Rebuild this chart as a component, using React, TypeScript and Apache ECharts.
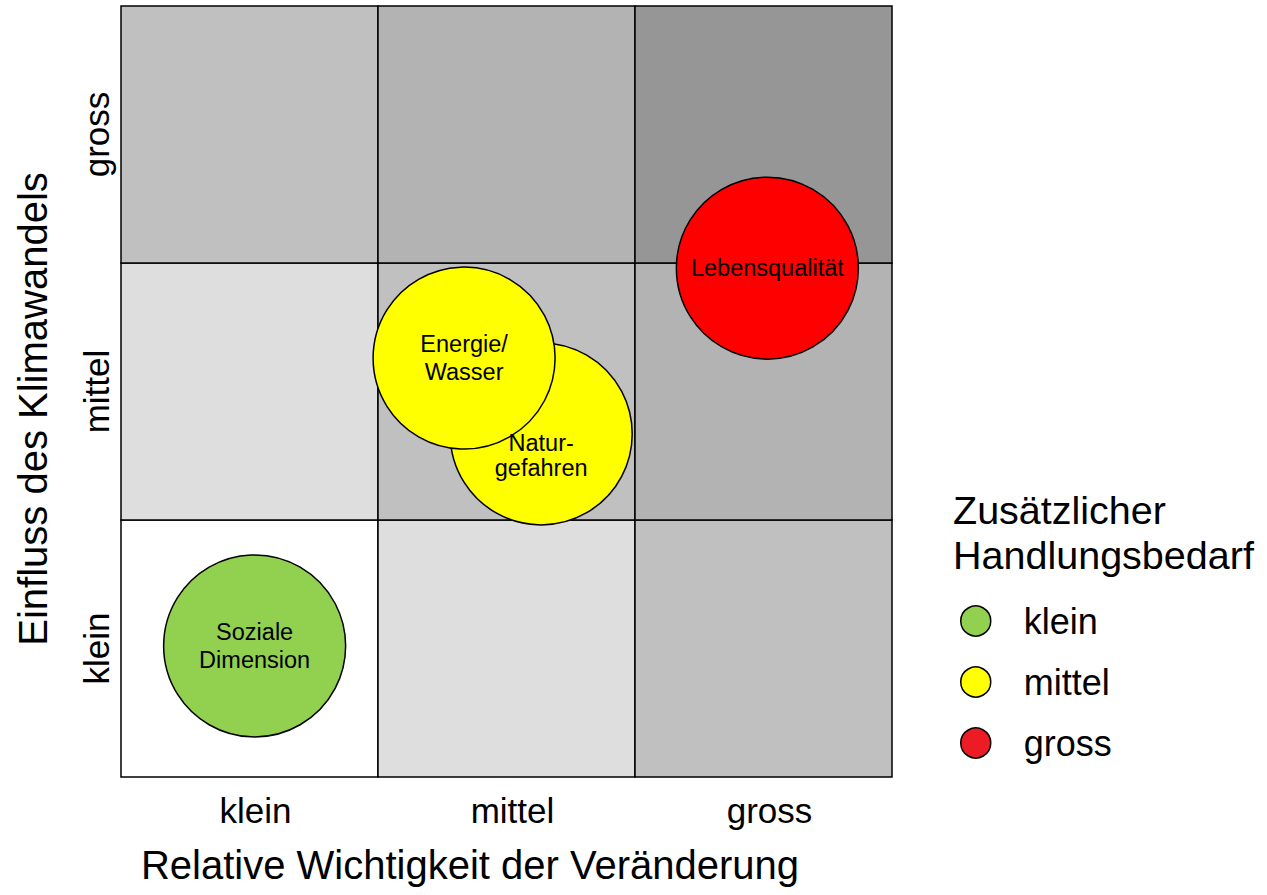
import React, { useEffect, useRef } from "react";
import * as echarts from "echarts";

const xCategories = ["klein", "mittel", "gross"];
const yCategories = ["klein", "mittel", "gross"];
// cell shades, rows from bottom (klein) to top (gross), columns klein..gross
const cellShades = [
  ["#ffffff", "#dedede", "#c0c0c0"],
  ["#dedede", "#c0c0c0", "#b3b3b3"],
  ["#c0c0c0", "#b3b3b3", "#969696"],
];
const needNames = ["klein", "mittel", "gross"];
const needColors = ["#92d050", "#ffff00", "#ff0000"];
const legendColors = ["#92d050", "#ffff00", "#ed1c24"];
// [Wichtigkeit, Einfluss, label]
const kleinPoints: [number, number, string][] = [[0.52, 0.51, "Soziale\nDimension"]];
const mittelPoints: [number, number, string][] = [
  [1.635, 1.335, "Natur-\ngefahren"],
  [1.335, 1.63, "Energie/\nWasser"],
];
const grossPoints: [number, number, string][] = [[2.515, 1.98, "Lebensqualität"]];
const xTitle = "Relative Wichtigkeit der Veränderung";
const yTitle = "Einfluss des Klimawandels";
const legendTitle = "Zusätzlicher\nHandlungsbedarf";

const FONT = "'Liberation Sans', Arial, Helvetica, sans-serif";

export default function App() {
  const ref = useRef<HTMLDivElement>(null);
  useEffect(() => {
    document.body.style.margin = "0";
    if (!ref.current) return;
    const chart = echarts.init(ref.current, null, { renderer: "svg" });

    const cellData: number[][] = [];
    cellShades.forEach((row, yi) => row.forEach((_, xi) => cellData.push([xi, yi])));
    const cellColors: string[] = [];
    cellShades.forEach((row) => row.forEach((c) => cellColors.push(c)));

    const labelShift: Record<string, number[]> = { "Natur-\ngefahren": [0, 22] };
    const pointSeries = [kleinPoints, mittelPoints, grossPoints].map((pts, i) => ({
      name: needNames[i],
      type: "scatter",
      xAxisIndex: 1,
      yAxisIndex: 1,
      symbol: "circle",
      symbolSize: 182,
      z: 5,
      itemStyle: { color: needColors[i], borderColor: "#000", borderWidth: 1.5, opacity: 1 },
      label: {
        show: true,
        position: "inside",
        formatter: (p: any) => p.value[2],
        color: "#000",
        fontSize: 23.5,
        lineHeight: 28,
        fontFamily: FONT,
      },
      emphasis: { disabled: true },
      data: pts.map((p) => ({
        value: p,
        label: labelShift[p[2]] ? { offset: labelShift[p[2]], lineHeight: 25 } : undefined,
      })),
    }));

    chart.setOption({
      animation: false,
      backgroundColor: "#ffffff",
      textStyle: { fontFamily: FONT },
      title: {
        text: legendTitle,
        left: 953,
        top: 487,
        padding: 0,
        textStyle: { fontSize: 39.5, lineHeight: 45, fontWeight: "normal", color: "#000", fontFamily: FONT },
      },
      legend: {
        orient: "vertical",
        left: 960,
        top: 603,
        padding: 0,
        itemWidth: 30,
        itemHeight: 30,
        itemGap: 25,
        icon: "circle",
        selectedMode: false,
        itemStyle: { borderColor: "#000", borderWidth: 1.5 },
        textStyle: { fontSize: 36, lineHeight: 30, color: "#000", padding: [0, 0, 0, 28], fontFamily: FONT },
        data: needNames.map((n, i) => ({ name: n, itemStyle: { color: legendColors[i] } })),
      },
      grid: { left: 121, top: 6, width: 771, height: 771 },
      xAxis: [
        {
          type: "category",
          data: xCategories,
          position: "bottom",
          axisLine: { show: false },
          axisTick: { show: false },
          splitLine: { show: false },
          axisLabel: { fontSize: 35, margin: 16, padding: [0, 0, 0, 12], color: "#000", fontFamily: FONT },
        },
        { type: "value", min: 0, max: 3, show: false },
      ],
      yAxis: [
        {
          type: "category",
          data: yCategories,
          position: "left",
          axisLine: { show: false },
          axisTick: { show: false },
          splitLine: { show: false },
          axisLabel: { fontSize: 35, margin: 7, rotate: 90, color: "#000", fontFamily: FONT },
        },
        { type: "value", min: 0, max: 3, show: false },
      ],
      graphic: [
        {
          type: "text",
          x: 470,
          y: 865,
          style: { text: xTitle, fontSize: 40, fontFamily: FONT, fill: "#000", textAlign: "center", textVerticalAlign: "middle" },
        },
        {
          type: "text",
          x: 33,
          y: 409,
          rotation: Math.PI / 2,
          style: { text: yTitle, fontSize: 40, fontFamily: FONT, fill: "#000", textAlign: "center", textVerticalAlign: "middle" },
        },
      ],
      series: [
        {
          type: "custom",
          xAxisIndex: 1,
          yAxisIndex: 1,
          silent: true,
          clip: false,
          z: 1,
          renderItem: (params: any, api: any) => {
            const xi = api.value(0);
            const yi = api.value(1);
            const p1 = api.coord([xi, yi + 1]);
            const p2 = api.coord([xi + 1, yi]);
            return {
              type: "rect",
              shape: { x: p1[0], y: p1[1], width: p2[0] - p1[0], height: p2[1] - p1[1] },
              style: { fill: cellColors[params.dataIndex], stroke: "#000", lineWidth: 1.5 },
            };
          },
          data: cellData,
        },
        ...pointSeries,
      ],
    });
    return () => chart.dispose();
  }, []);
  return <div ref={ref} style={{ width: 1267, height: 895 }} />;
}
